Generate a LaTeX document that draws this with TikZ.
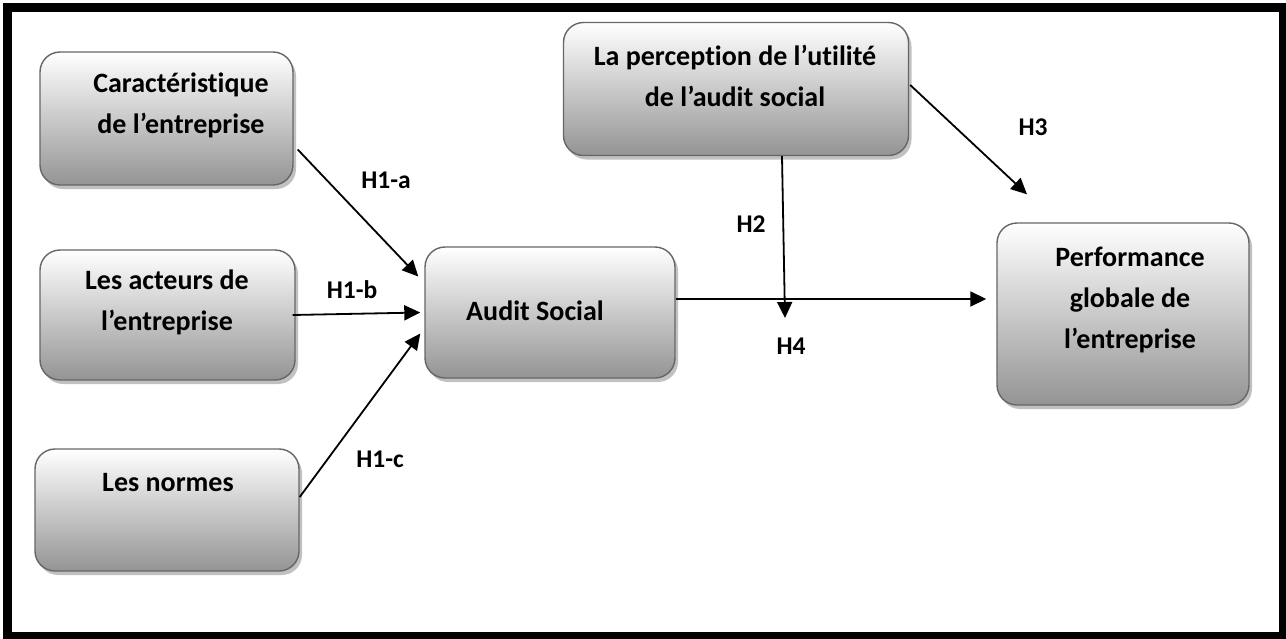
\documentclass[tikz,border=0pt]{standalone}
\usepackage{fontspec}
\setmainfont{Carlito}[Ligatures={NoCommon}]
\usetikzlibrary{arrows.meta,shadows}
\begin{document}
\begin{tikzpicture}[x=1pt,y=-1pt,
  box/.style={draw=black!60,line width=1.4pt,rounded corners=20pt,
    top color=white,bottom color=black!42,
    drop shadow={shadow xshift=3pt,shadow yshift=-4pt,fill=black!30,opacity=0.8},
    inner sep=0pt},
  boxtext/.style={align=center,font=\bfseries\fontsize{28}{41}\selectfont,inner sep=0pt},
  hlab/.style={font=\bfseries\fontsize{25.5}{28}\selectfont,inner sep=0pt},
  arr/.style={line width=1.8pt,-{Triangle[length=16pt,width=15pt]}}]
\useasboundingbox (0,0) rectangle (1286,638);
\draw[line width=9pt] (7.5,7.5) rectangle (1283,636);
% boxes
\node[box,minimum width=253pt,minimum height=133pt] (carac) at (166.5,118.5) {};
\node[boxtext] (caract) at (181,105.5) {Caractéristique\\de l’entreprise};
\node[box,minimum width=255pt,minimum height=130pt] (acteurs) at (167.5,315) {};
\node[boxtext] (acteurst) at (167,302) {Les acteurs de\\l’entreprise};
\node[box,minimum width=264pt,minimum height=122pt] (normes) at (167,510) {};
\node[boxtext] (normest) at (168,483) {Les normes};
\node[box,minimum width=250pt,minimum height=131pt] (audit) at (550,312.5) {};
\node[boxtext] (auditt) at (535,311) {Audit Social};
\node[box,minimum width=345pt,minimum height=133pt] (percep) at (736,89) {};
\node[boxtext] (percept) at (735,76) {La perception de l’utilité\\de l’audit social};
\node[box,minimum width=252pt,minimum height=182pt] (perf) at (1123,314) {};
\node[boxtext] (perft) at (1130,300) {Performance\\globale de\\l’entreprise};
% connectors
\coordinate (h2end) at (785,318);
\draw[arr] ([xshift=4pt,yshift=-31pt]carac.east) -- ([xshift=-6pt,yshift=36pt]audit.west);
\draw[arr] ([xshift=-3pt]acteurs.east) -- ([xshift=-4pt]audit.west);
\draw[arr] ([yshift=13pt]normes.east) -- ([xshift=-4pt,yshift=-21pt]audit.west);
\draw[arr] ([xshift=46pt]percep.south) -- (h2end);
\draw[arr] ([yshift=13.5pt]audit.east) -- ([xshift=-10pt,yshift=15pt]perf.west);
\draw[arr] ([xshift=1pt,yshift=4pt]percep.east) -- ([xshift=-96pt,yshift=28pt]perf.north);
% labels
\node[hlab] (h1a) at (386,180) {H1-a};
\node[hlab] (h1b) at (352,290) {H1-b};
\node[hlab] (h1c) at (380,459) {H1-c};
\node[hlab] (h2) at (751,224) {H2};
\node[hlab] (h4) at (791,346) {H4};
\node[hlab] (h3) at (1033,127) {H3};
\end{tikzpicture}
\end{document}
